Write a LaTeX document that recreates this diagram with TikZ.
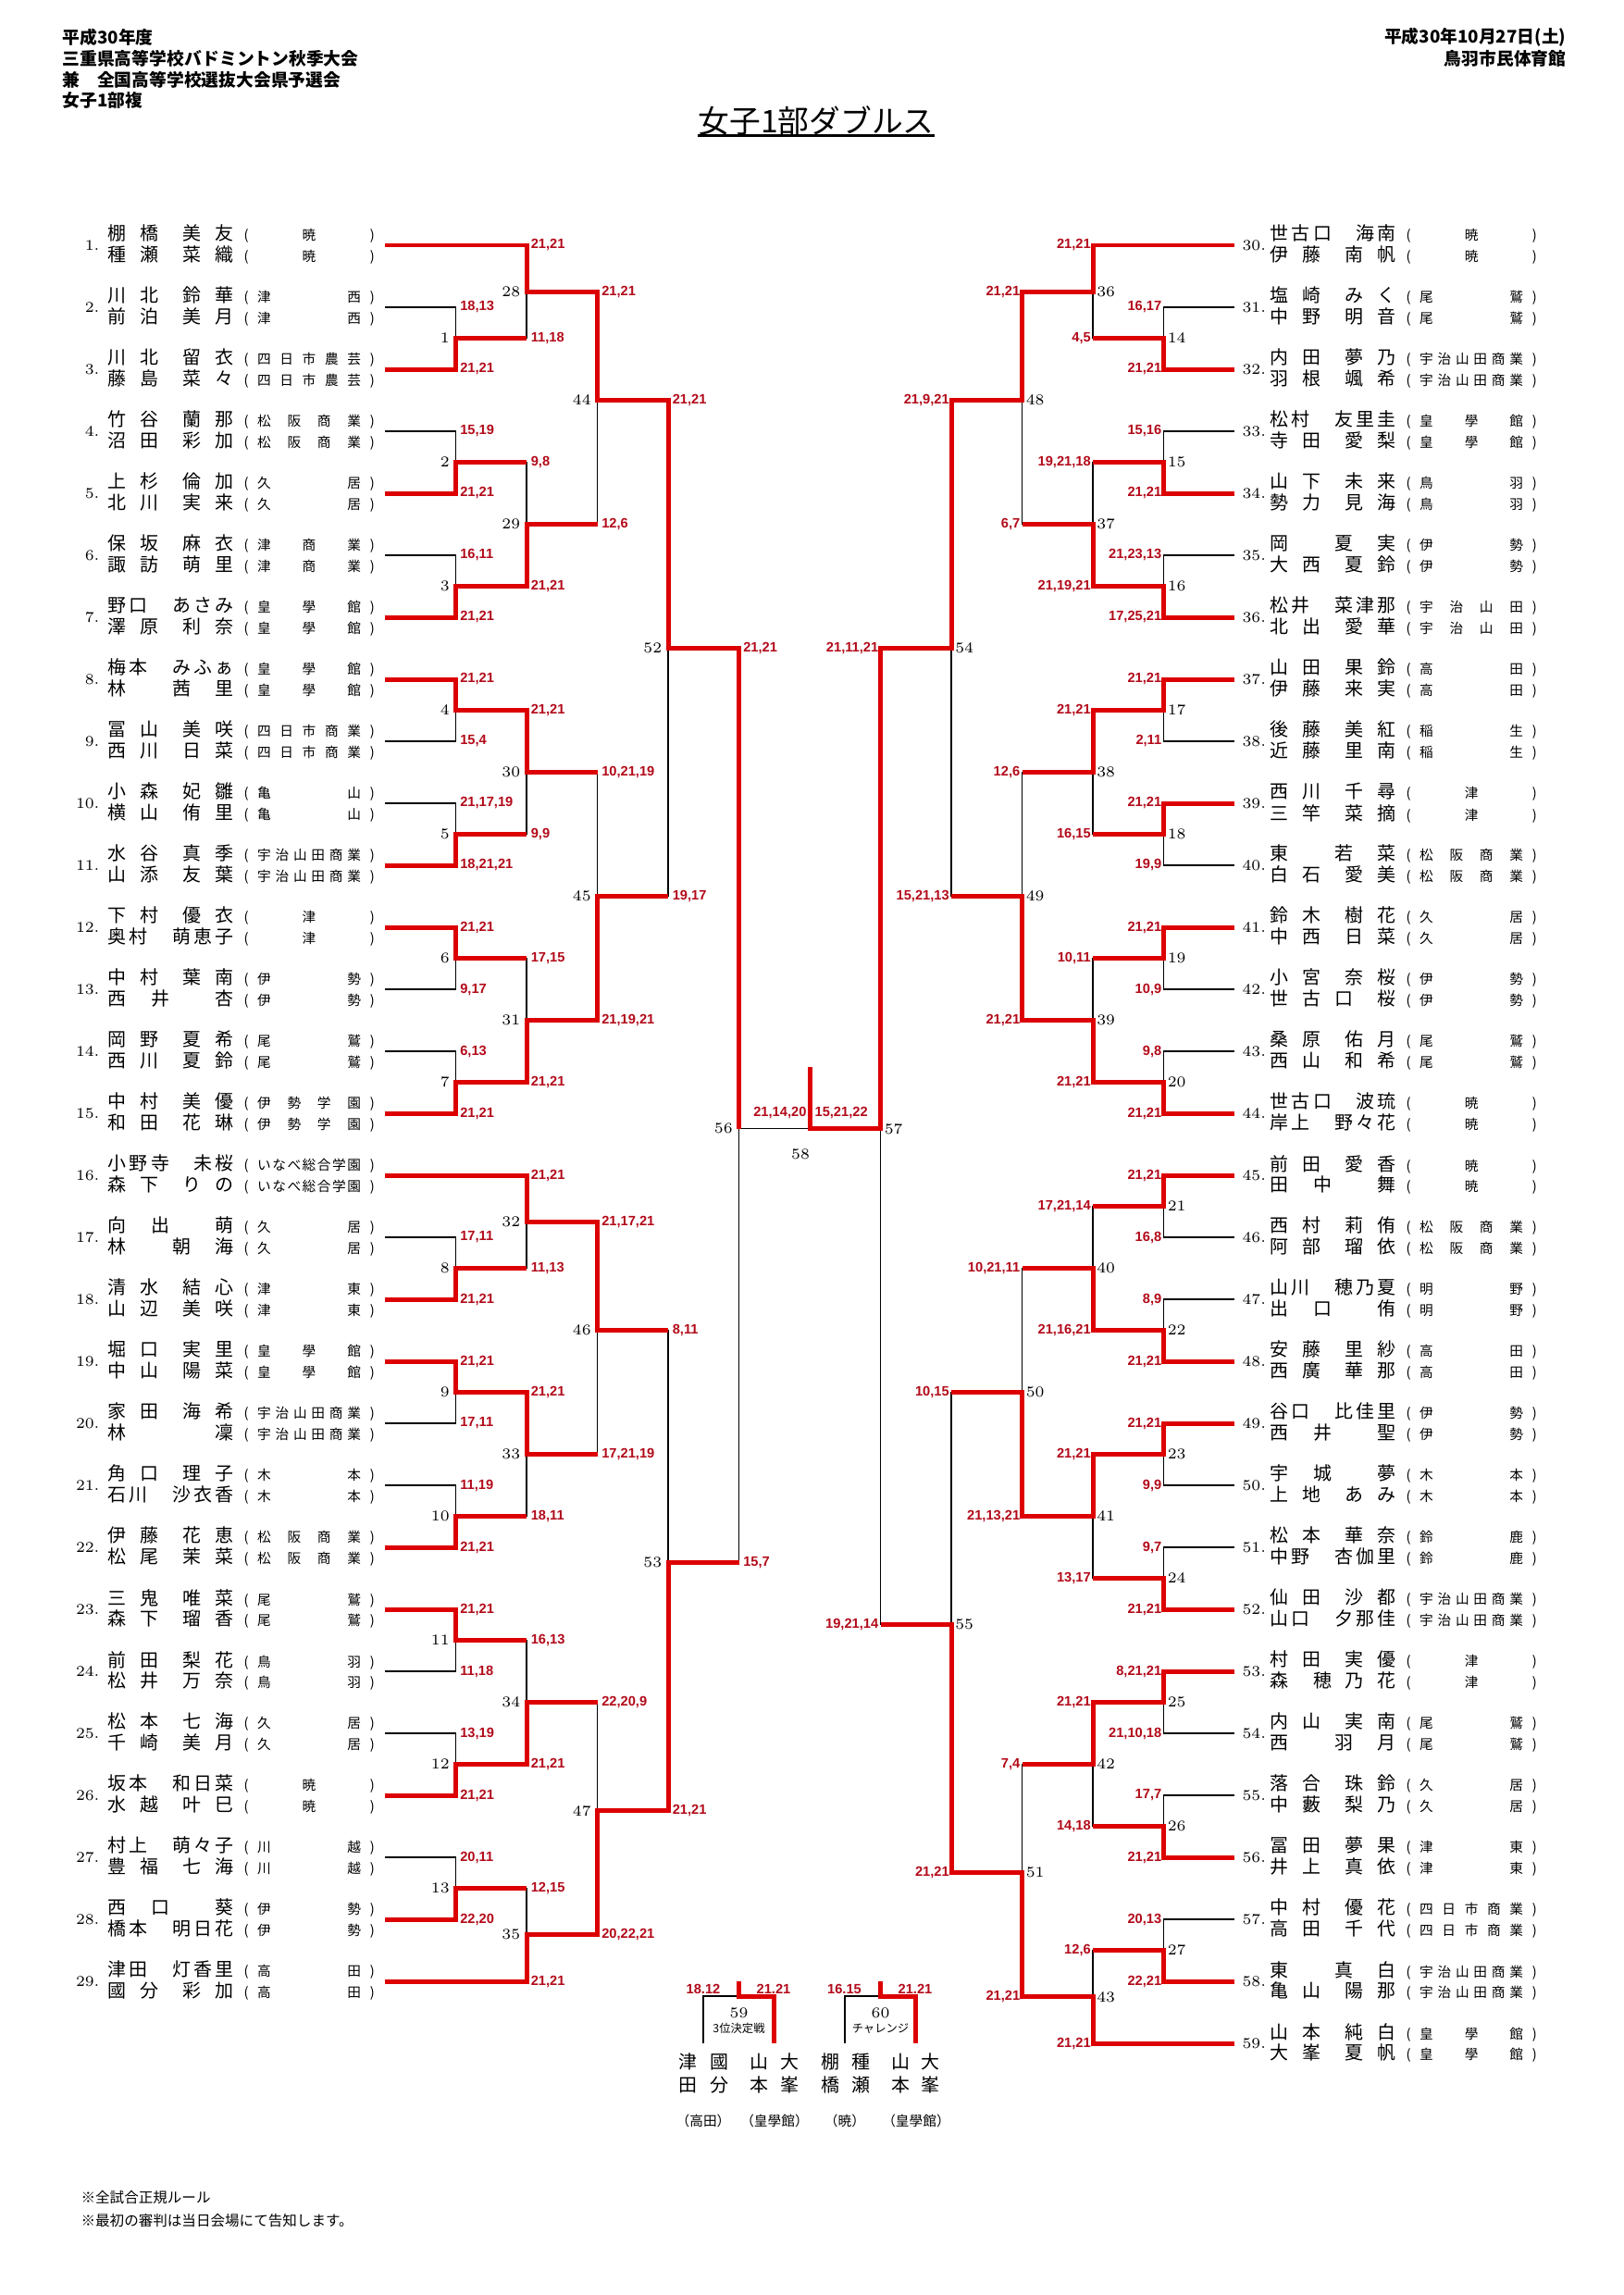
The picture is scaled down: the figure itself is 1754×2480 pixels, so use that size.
\documentclass[tikz,border=0pt]{standalone}
\usepackage{fontspec}
\usepackage{tikz}
\newfontfamily\jp{Noto Sans CJK JP}
\newfontfamily\sansb{Liberation Sans}
\definecolor{winred}{RGB}{220,0,0}
\definecolor{scorered}{RGB}{178,10,25}
\newdimen\pxu \pxu=0.11973mm
\makeatletter
\newcommand\nmchars[1]{\expandafter\nm@chars\expandafter{#1}}
\newcommand\nm@chars[1]{\@tfor\nm@c:=#1\do{\if*\nm@c\hskip11.6\pxu\else\makebox[23.2\pxu]{\nm@c}\fi}}
\newcommand\spreadtxt[1]{\expandafter\sp@txt\expandafter{#1}}
\newcommand\sp@txt[1]{\let\sp@sep\relax\@tfor\sp@c:=#1\do{\sp@sep\sp@c\let\sp@sep\hfill}}
\makeatother
\newcommand\pline[2]{\makebox[139.2\pxu][l]{\fontsize{6.8}{8}\selectfont\nmchars{#1}}%
  {\fontsize{5}{6}\selectfont\makebox[23.8\pxu]{(}\makebox[112\pxu]{\spreadtxt{#2}}\makebox[24.5\pxu]{)}}}
\newcommand\leftplayers{1/棚*橋**美*友/種*瀬**菜*織/暁,
  2/川*北**鈴*華/前*泊**美*月/津西,
  3/川*北**留*衣/藤*島**菜*々/四日市農芸,
  4/竹*谷**蘭*那/沼*田**彩*加/松阪商業,
  5/上*杉**倫*加/北*川**実*来/久居,
  6/保*坂**麻*衣/諏*訪**萌*里/津商業,
  7/野口**あさみ/澤*原**利*奈/皇學館,
  8/梅本**みふぁ/林****茜**里/皇學館,
  9/冨*山**美*咲/西*川**日*菜/四日市商業,
  10/小*森**妃*雛/横*山**侑*里/亀山,
  11/水*谷**真*季/山*添**友*葉/宇治山田商業,
  12/下*村**優*衣/奥村**萌恵子/津,
  13/中*村**葉*南/西**井****杏/伊勢,
  14/岡*野**夏*希/西*川**夏*鈴/尾鷲,
  15/中*村**美*優/和*田**花*琳/伊勢学園,
  16/小野寺**未桜/森*下**り*の/いなべ総合学園,
  17/向**出****萌/林****朝**海/久居,
  18/清*水**結*心/山*辺**美*咲/津東,
  19/堀*口**実*里/中*山**陽*菜/皇學館,
  20/家*田**海*希/林********凜/宇治山田商業,
  21/角*口**理*子/石川**沙衣香/木本,
  22/伊*藤**花*恵/松*尾**茉*菜/松阪商業,
  23/三*鬼**唯*菜/森*下**瑠*香/尾鷲,
  24/前*田**梨*花/松*井**万*奈/鳥羽,
  25/松*本**七*海/千*崎**美*月/久居,
  26/坂本**和日菜/水*越**叶*巳/暁,
  27/村上**萌々子/豊*福**七*海/川越,
  28/西**口****葵/橋本**明日花/伊勢,
  29/津田**灯香里/國*分**彩*加/高田}
\newcommand\rightplayers{30/世古口**海南/伊*藤**南*帆/暁,
  31/塩*崎**み*く/中*野**明*音/尾鷲,
  32/内*田**夢*乃/羽*根**颯*希/宇治山田商業,
  33/松村**友里圭/寺*田**愛*梨/皇學館,
  34/山*下**未*来/勢*力**見*海/鳥羽,
  35/岡****夏**実/大*西**夏*鈴/伊勢,
  36/松井**菜津那/北*出**愛*華/宇治山田,
  37/山*田**果*鈴/伊*藤**来*実/高田,
  38/後*藤**美*紅/近*藤**里*南/稲生,
  39/西*川**千*尋/三*竿**菜*摘/津,
  40/東****若**菜/白*石**愛*美/松阪商業,
  41/鈴*木**樹*花/中*西**日*菜/久居,
  42/小*宮**奈*桜/世*古*口**桜/伊勢,
  43/桑*原**佑*月/西*山**和*希/尾鷲,
  44/世古口**波琉/岸上**野々花/暁,
  45/前*田**愛*香/田**中****舞/暁,
  46/西*村**莉*侑/阿*部**瑠*依/松阪商業,
  47/山川**穂乃夏/出**口****侑/明野,
  48/安*藤**里*紗/西*廣**華*那/高田,
  49/谷口**比佳里/西**井****聖/伊勢,
  50/宇**城****夢/上*地**あ*み/木本,
  51/松*本**華*奈/中野**杏伽里/鈴鹿,
  52/仙*田**沙*都/山口**夕那佳/宇治山田商業,
  53/村*田**実*優/森**穂*乃*花/津,
  54/内*山**実*南/西****羽**月/尾鷲,
  55/落*合**珠*鈴/中*藪**梨*乃/久居,
  56/冨*田**夢*果/井*上**真*依/津東,
  57/中*村**優*花/高*田**千*代/四日市商業,
  58/東****真**白/亀*山**陽*那/宇治山田商業,
  59/山*本**純*白/大*峯**夏*帆/皇學館}
\newcommand\leftbouts{1/28/e3/e2/{21,21}/{18,13}, 2/29/e5/e4/{21,21}/{15,19},
  3/29/e7/e6/{21,21}/{16,11}, 4/30/e8/e9/{21,21}/{15,4},
  5/30/e11/e10/{18,21,21}/{21,17,19}, 6/31/e12/e13/{21,21}/{9,17},
  7/31/e15/e14/{21,21}/{6,13}, 8/32/e18/e17/{21,21}/{17,11},
  9/33/e19/e20/{21,21}/{17,11}, 10/33/e22/e21/{21,21}/{11,19},
  11/34/e23/e24/{21,21}/{11,18}, 12/34/e26/e25/{21,21}/{13,19},
  13/35/e28/e27/{22,20}/{20,11},
  28/44/e1/m1/{21,21}/{11,18}, 29/44/m3/m2/{21,21}/{9,8},
  30/45/m4/m5/{21,21}/{9,9}, 31/45/m7/m6/{21,21}/{17,15},
  32/46/e16/m8/{21,21}/{11,13}, 33/46/m9/m10/{21,21}/{18,11},
  34/47/m12/m11/{21,21}/{16,13}, 35/47/e29/m13/{21,21}/{12,15},
  44/52/m28/m29/{21,21}/{12,6}, 45/52/m31/m30/{21,19,21}/{10,21,19},
  46/53/m32/m33/{21,17,21}/{17,21,19}, 47/53/m35/m34/{20,22,21}/{22,20,9},
  52/56/m44/m45/{21,21}/{19,17}, 53/56/m47/m46/{21,21}/{8,11}}
\newcommand\rightbouts{14/36/e32/e31/{21,21}/{16,17}, 15/37/e34/e33/{21,21}/{15,16},
  16/37/e36/e35/{17,25,21}/{21,23,13}, 17/38/e37/e38/{21,21}/{2,11},
  18/38/e39/e40/{21,21}/{19,9}, 19/39/e41/e42/{21,21}/{10,9},
  20/39/e44/e43/{21,21}/{9,8}, 21/40/e45/e46/{21,21}/{16,8},
  22/40/e48/e47/{21,21}/{8,9}, 23/41/e49/e50/{21,21}/{9,9},
  24/41/e52/e51/{21,21}/{9,7}, 25/42/e53/e54/{8,21,21}/{21,10,18},
  26/42/e56/e55/{21,21}/{17,7}, 27/43/e58/e57/{22,21}/{20,13},
  36/48/e30/m14/{21,21}/{4,5}, 37/48/m16/m15/{21,19,21}/{19,21,18},
  38/49/m17/m18/{21,21}/{16,15}, 39/49/m20/m19/{21,21}/{10,11},
  40/50/m22/m21/{21,16,21}/{17,21,14}, 41/50/m23/m24/{21,21}/{13,17},
  42/51/m25/m26/{21,21}/{14,18}, 43/51/e59/m27/{21,21}/{12,6},
  48/54/m36/m37/{21,21}/{6,7}, 49/54/m39/m38/{21,21}/{12,6},
  50/55/m41/m40/{21,13,21}/{10,21,11}, 51/55/m43/m42/{21,21}/{7,4},
  54/57/m48/m49/{21,9,21}/{15,21,13}, 55/57/m51/m50/{21,21}/{10,15}}

\begin{document}
\begin{tikzpicture}[x=0.11973mm, y=-0.11973mm,
    lose/.style={line width=0.45pt, black},
    win/.style={line width=1.7pt, winred},
    score/.style={font=\sansb\bfseries\fontsize{5}{6}\selectfont, text=scorered, inner sep=0pt},
    mno/.style={font=\fontsize{5.5}{6}\selectfont, inner sep=0pt},
    pl/.style={font=\jp, inner sep=0pt, anchor=west},
    hdr/.style={font=\jp\bfseries\fontsize{6.4}{7}\selectfont, inner sep=0pt},
    note/.style={font=\jp\fontsize{5.3}{6}\selectfont, inner sep=0pt, anchor=west},
    vname/.style={font=\jp\fontsize{6.8}{8.5}\selectfont, align=center, inner sep=0pt},
    vsch/.style={font=\jp\fontsize{5}{6}\selectfont, inner sep=0pt},
    tag/.style={font=\jp\fontsize{4.2}{5}\selectfont, inner sep=0pt}]
  \useasboundingbox (0,0) rectangle (1754,2480);

  \node[hdr, anchor=west] (h1) at (67,40) {平成30年度};
  \node[hdr, anchor=west] (h2) at (67,63) {三重県高等学校バドミントン秋季大会};
  \node[hdr, anchor=west] (h3) at (67,86) {兼　全国高等学校選抜大会県予選会};
  \node[hdr, anchor=west] (h4) at (67,108) {女子1部複};
  \node[hdr, anchor=east] (h5) at (1693,40) {平成30年10月27日(土)};
  \node[hdr, anchor=east] (h6) at (1693,63) {鳥羽市民体育館};
  \node[font=\jp\fontsize{11.5}{13}\selectfont, inner sep=0pt] (ttl) at (882,130) {女子1部ダブルス};
  \draw[line width=0.7pt] (ttl.south west) -- (ttl.south east);

  \foreach \ix in {1,...,29} \coordinate (e\ix) at (416,{265+67*(\ix-1)});
  \foreach \ix in {30,...,59} \coordinate (e\ix) at (1334,{265+67*(\ix-30)});
  \foreach \bt/\col/\h in {1/1/3, 2/1/7, 3/1/11, 4/1/15, 5/1/19, 6/1/23, 7/1/27,
      8/1/33, 9/1/37, 10/1/41, 11/1/45, 12/1/49, 13/1/53, 28/2/1.5, 29/2/9,
      30/2/17, 31/2/25, 32/2/31.5, 33/2/39, 34/2/47, 35/2/54.5, 44/3/5,
      45/3/21, 46/3/35, 47/3/50.5, 52/4/13, 53/4/42.5, 56/5/28.5}
    \coordinate (m\bt) at ({416+76.5*\col},{265+33.5*\h});
  \foreach \bt/\col/\h in {14/1/3, 15/1/7, 16/1/11, 17/1/15, 18/1/19, 19/1/23,
      20/1/27, 21/1/31, 22/1/35, 23/1/39, 24/1/43, 25/1/47, 26/1/51, 27/1/55,
      36/2/1.5, 37/2/9, 38/2/17, 39/2/25, 40/2/33, 41/2/41, 42/2/49, 43/2/56.5,
      48/3/5, 49/3/21, 50/3/37, 51/3/52.5, 54/4/13, 55/4/44.5, 57/5/28.5}
    \coordinate (m\bt) at ({1334-76.5*\col},{265+33.5*\h});
  \coordinate (m58) at (875,{265+33.5*28.5});
  \coordinate (m58top) at (875,1153);

  \foreach \ix/\na/\nb/\sch in \leftplayers {
    \node[mno, anchor=east] (no\ix) at (108,{265+67*(\ix-1)}) {\ix.};
    \node[pl] (pa\ix) at (114.5,{253+67*(\ix-1)}) {\pline{\na}{\sch}};
    \node[pl] (pb\ix) at (114.5,{276+67*(\ix-1)}) {\pline{\nb}{\sch}};
  }
  \foreach \ix/\na/\nb/\sch in \rightplayers {
    \node[mno, anchor=west] (no\ix) at (1342,{265+67*(\ix-30)}) {\ix.};
    \node[pl] (pa\ix) at (1370.5,{253+67*(\ix-30)}) {\pline{\na}{\sch}};
    \node[pl] (pb\ix) at (1370.5,{276+67*(\ix-30)}) {\pline{\nb}{\sch}};
  }

  \foreach \bt/\nx/\wi/\lo/\wsc/\lsc in \leftbouts {\draw[lose] (\lo) -| (m\bt);}
  \foreach \bt/\nx/\wi/\lo/\wsc/\lsc in \rightbouts {\draw[lose] (\lo) -| (m\bt);}
  \draw[lose] (m53) -| (m56);
  \draw[lose] (m55) -| (m57);
  \draw[lose] (m56) -- (m58);

  \foreach \bt/\nx/\wi/\lo/\wsc/\lsc in \leftbouts {
    \draw[win] (\wi) -| (m\bt) -- (m\bt -| m\nx);
    \node[score, anchor=west, xshift=0.5mm] (ws\bt) at (m\bt |- \wi) {\wsc};
    \node[score, anchor=west, xshift=0.5mm] (ls\bt) at (m\bt |- \lo) {\lsc};
    \node[mno, anchor=east, xshift=-0.75mm] (mn\bt) at (m\bt) {\bt};
  }
  \foreach \bt/\nx/\wi/\lo/\wsc/\lsc in \rightbouts {
    \draw[win] (\wi) -| (m\bt) -- (m\bt -| m\nx);
    \node[score, anchor=east, xshift=-0.2mm] (ws\bt) at (m\bt |- \wi) {\wsc};
    \node[score, anchor=east, xshift=-0.2mm] (ls\bt) at (m\bt |- \lo) {\lsc};
    \node[mno, anchor=west, xshift=0.45mm] (mn\bt) at (m\bt) {\bt};
  }
  \draw[win] (m52) -| (m56);
  \draw[win] (m54) -| (m57) -- (m58) -- (m58top);
  \node[score, anchor=west, xshift=0.5mm] (ws56) at (m56 |- m52) {21,21};
  \node[score, anchor=west, xshift=0.5mm] (ls56) at (m56 |- m53) {15,7};
  \node[mno, anchor=east, xshift=-0.75mm] (mn56) at (m56) {56};
  \node[score, anchor=east, xshift=-0.2mm] (ws57) at (m57 |- m54) {21,11,21};
  \node[score, anchor=east, xshift=-0.2mm] (ls57) at (m57 |- m55) {19,21,14};
  \node[mno, anchor=west, xshift=0.45mm] (mn57) at (m57) {57};
  \node[score, anchor=east] (fs56) at (872,1202) {21,14,20};
  \node[score, anchor=west] (fs57) at (880,1202) {15,21,22};
  \node[mno] (mn58) at (865,1247) {58};

  \coordinate (t59) at (798.5,2157);
  \coordinate (t59top) at (798.5,2141);
  \coordinate (t59a) at (760,2208);
  \coordinate (t59b) at (836,2208);
  \coordinate (t60) at (951.5,2157);
  \coordinate (t60top) at (951.5,2141);
  \coordinate (t60a) at (913,2208);
  \coordinate (t60b) at (989.5,2208);
  \draw[lose] (t59a) |- (t59);
  \draw[win] (t59top) -- (t59) -| (t59b);
  \draw[lose] (t60a) |- (t60);
  \draw[win] (t60top) -- (t60) -| (t60b);
  \node[score] (s59a) at (760,2149) {18.12};
  \node[score] (s59b) at (836,2149) {21.21};
  \node[score] (s60a) at (912.5,2149) {16.15};
  \node[score] (s60b) at (989,2149) {21.21};
  \node[mno] (mn59) at (798.5,2175) {59};
  \node[tag] (tg59) at (798.5,2192) {3位決定戦};
  \node[mno] (mn60) at (951.5,2175) {60};
  \node[tag] (tg60) at (951.5,2192) {チャレンジ};
  \foreach \x/\up/\dn in {743/津/田, 777/國/分, 820/山/本, 853/大/峯,
      897/棚/橋, 930/種/瀬, 973/山/本, 1005/大/峯}
    \node[vname] (vn\x) at (\x,2240.5) {\up\\\dn};
  \node[vsch] (vs1) at (760,2292) {（高田）};
  \node[vsch] (vs2) at (837,2292) {（皇學館）};
  \node[vsch] (vs3) at (913,2292) {（暁）};
  \node[vsch] (vs4) at (990,2292) {（皇學館）};

  \node[note] (n1) at (87,2375) {※全試合正規ルール};
  \node[note] (n2) at (87,2400) {※最初の審判は当日会場にて告知します。};
\end{tikzpicture}
\end{document}
